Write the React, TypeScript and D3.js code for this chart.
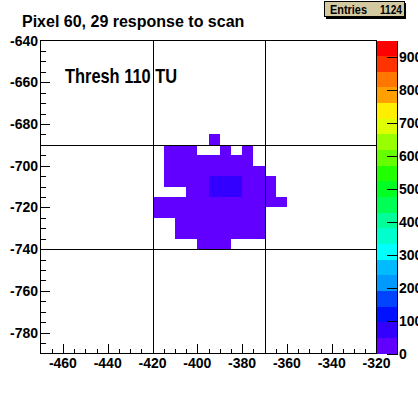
import React from 'react';
import { scaleLinear, scaleQuantize, range } from 'd3';

// hit map, 5x5 bins; each row = lower y edge, x lower edges, counts
const rowY = [-690, -695, -700, -705, -710, -715, -720, -725, -730, -735, -740];
const rowX = [
  [-395],
  [-415, -410, -405, -390, -380],
  [-415, -410, -405, -400, -395, -390, -385, -380],
  [-415, -410, -405, -400, -395, -390, -385, -380, -375],
  [-415, -410, -405, -400, -395, -390, -385, -380, -375, -370],
  [-405, -400, -395, -390, -385, -380, -375, -370],
  [-420, -415, -410, -405, -400, -395, -390, -385, -380, -375, -370, -365],
  [-420, -415, -410, -405, -400, -395, -390, -385, -380, -375],
  [-410, -405, -400, -395, -390, -385, -380, -375],
  [-410, -405, -400, -395, -390, -385, -380, -375],
  [-400, -395, -390],
];
const rowN = [
  [6],
  [8, 10, 9, 7, 6],
  [9, 11, 12, 10, 11, 9, 10, 8],
  [10, 12, 13, 12, 14, 13, 12, 11, 9],
  [9, 11, 13, 14, 62, 66, 58, 13, 11, 7],
  [12, 14, 64, 70, 60, 14, 12, 6],
  [7, 9, 11, 13, 14, 15, 14, 13, 12, 11, 8, 5],
  [8, 10, 12, 13, 14, 14, 13, 12, 11, 9],
  [10, 12, 13, 13, 12, 12, 11, 9],
  [9, 10, 11, 12, 11, 10, 9, 8],
  [7, 8, 7],
];

const xTicks = [-460, -440, -420, -400, -380, -360, -340, -320];
const yTicks = [-780, -760, -740, -720, -700, -680, -660, -640];
const zTicks = [0, 100, 200, 300, 400, 500, 600, 700, 800, 900];
const gridX = [-420, -370];
const gridY = [-690, -740];

const palette = [
  '#6200ff', '#3300ff', '#0011ff', '#0044ff', '#0099ff', '#00bbff', '#00ffff',
  '#00ffcc', '#00ff99', '#00ff55', '#00ff22', '#22ff00', '#66ff00', '#99ff00',
  '#ddff00', '#ffee00', '#ffa000', '#ff7700', '#ff3300', '#ff0000',
];

const title = 'Pixel 60, 29 response to scan';
const label = 'Thresh 110 TU';
const entries = 1124;
const zMax = 950;
const binW = 5;

const font = '"Liberation Sans", Arial, Helvetica, sans-serif';

export default function App() {
  const W = 418;
  const H = 393;
  const x = scaleLinear().domain([-470, -320]).range([40.5, 376.5]);
  const y = scaleLinear().domain([-790, -640]).range([353.5, 40.5]);
  const z = scaleLinear().domain([0, zMax]).range([353.5, 40.5]);
  const color = scaleQuantize<string>().domain([0, zMax]).range(palette);

  const cells = rowY.flatMap((yv, i) =>
    rowX[i].map((xv, j) => ({ x: xv, y: yv, n: rowN[i][j] }))
  );

  const minorX = range(-465, -320, 5);
  const minorY = range(-785, -640, 5);
  const levels = range(palette.length).map(i => (i * zMax) / palette.length);

  const txt = { fontFamily: font, fontWeight: 'bold' as const, fill: '#000' };

  return (
    <svg width={W} height={H} style={{ position: 'absolute', left: 0, top: 0, background: '#fff' }}>
      {/* cells */}
      <g shapeRendering="crispEdges">
        {cells.map((c, i) => (
          <rect
            key={i}
            x={x(c.x)}
            y={y(c.y + binW)}
            width={x(c.x + binW) - x(c.x)}
            height={y(c.y) - y(c.y + binW)}
            fill={color(c.n)}
          />
        ))}
      </g>

      {/* cross lines */}
      <g stroke="#000" strokeWidth={1} shapeRendering="crispEdges">
        {gridX.map(v => (
          <line key={'gx' + v} x1={Math.round(x(v)) + 0.5} x2={Math.round(x(v)) + 0.5} y1={40.5} y2={353.5} />
        ))}
        {gridY.map(v => (
          <line key={'gy' + v} x1={40.5} x2={376.5} y1={Math.round(y(v)) + 0.5} y2={Math.round(y(v)) + 0.5} />
        ))}
      </g>

      {/* frame */}
      <rect x={40.5} y={40.5} width={336} height={313} fill="none" stroke="#000" shapeRendering="crispEdges" />

      {/* axis ticks */}
      <g stroke="#000" shapeRendering="crispEdges">
        {minorX.map(v => (
          <line key={'mx' + v} x1={Math.round(x(v)) + 0.5} x2={Math.round(x(v)) + 0.5} y1={353.5}
            y2={353.5 - (v % 20 === 0 ? 10 : 5)} />
        ))}
        {minorY.map(v => (
          <line key={'my' + v} y1={Math.round(y(v)) + 0.5} y2={Math.round(y(v)) + 0.5} x1={40.5}
            x2={40.5 + (v % 20 === 0 ? 9 : 5)} />
        ))}
      </g>
      <g {...txt} fontSize={14} textAnchor="middle">
        {xTicks.map(v => (
          <text key={'xl' + v} x={x(v)} y={368}>{v}</text>
        ))}
      </g>
      <g {...txt} fontSize={14} textAnchor="end">
        {yTicks.map(v => (
          <text key={'yl' + v} x={38} y={y(v) + 5}>{v}</text>
        ))}
      </g>

      {/* palette */}
      <g shapeRendering="crispEdges">
        {levels.map((lv, i) => (
          <rect key={'p' + i} x={377} width={20} y={z(lv + zMax / palette.length)}
            height={z(lv) - z(lv + zMax / palette.length)} fill={palette[i]} />
        ))}
      </g>
      <g stroke="#000" shapeRendering="crispEdges">
        <line x1={397.5} x2={397.5} y1={40.5} y2={353.5} />
        {zTicks.map(v => (
          <line key={'zt' + v} x1={387} x2={397.5} y1={Math.round(z(v)) + 0.5} y2={Math.round(z(v)) + 0.5} />
        ))}
      </g>
      <g {...txt} fontSize={14} textAnchor="start">
        {zTicks.map(v => (
          <text key={'zl' + v} x={399} y={z(v) + 5}>{v}</text>
        ))}
      </g>

      {/* title */}
      <text {...txt} x={22} y={27} fontSize={16}>{title}</text>

      {/* label */}
      <text {...txt} x={65} y={82.5} fontSize={21} textLength={112} lengthAdjust="spacingAndGlyphs">{label}</text>

      {/* stats box */}
      <rect x={326} y={3} width={80} height={16} fill="#000" shapeRendering="crispEdges" />
      <rect x={324.5} y={1.5} width={80} height={15} fill="#d2c9a1" stroke="#000" shapeRendering="crispEdges" />
      <text {...txt} x={330} y={14} fontSize={12} textLength={37} lengthAdjust="spacingAndGlyphs">Entries</text>
      <text {...txt} x={380} y={14} fontSize={12} textLength={22} lengthAdjust="spacingAndGlyphs">{entries}</text>
    </svg>
  );
}
